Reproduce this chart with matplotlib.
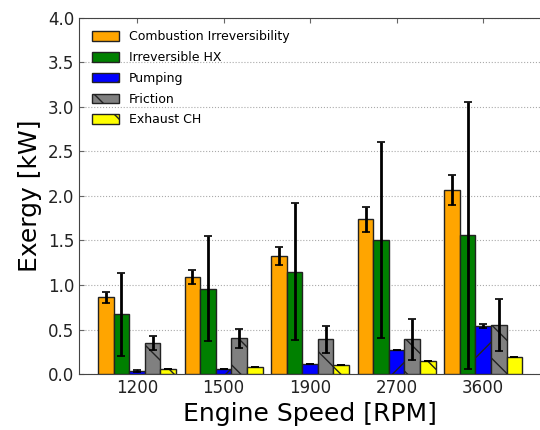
import numpy as np
import matplotlib
matplotlib.use('Agg')
from matplotlib import pyplot as plt

speeds = ['1200', '1500', '1900', '2700', '3600']
labels = ['Combustion Irreversibility', 'Irreversible HX', 'Pumping', 'Friction', 'Exhaust CH']
colors = ['orange', 'green', 'blue', 'gray', 'yellow']
hatches = ['', '', '/', '\\', '\\']

combustion = [0.86, 1.09, 1.33, 1.74, 2.07]
combustion_err = [0.06, 0.08, 0.10, 0.14, 0.17]
hx = [0.67, 0.96, 1.15, 1.51, 1.56]
hx_err = [0.47, 0.59, 0.77, 1.10, 1.50]
pumping = [0.03, 0.06, 0.11, 0.27, 0.54]
pumping_err = [0.01, 0.0, 0.0, 0.0, 0.02]
friction = [0.35, 0.40, 0.39, 0.39, 0.55]
friction_err = [0.08, 0.11, 0.15, 0.23, 0.29]
exhaust = [0.06, 0.08, 0.10, 0.15, 0.19]
exhaust_err = [0.0, 0.0, 0.0, 0.0, 0.0]

values = [combustion, hx, pumping, friction, exhaust]
errors = [combustion_err, hx_err, pumping_err, friction_err, exhaust_err]

fig = plt.figure(figsize=(5.4, 4.3), dpi=100)
ax = fig.add_axes([0.1463, 0.1302, 0.856, 0.828])

x = np.arange(len(speeds))
w = 0.18
for i in range(5):
    ax.bar(x + (i - 2) * w, values[i], w, color=colors[i], edgecolor='#222222',
           linewidth=1, hatch=hatches[i], label=labels[i], zorder=3,
           yerr=errors[i], error_kw=dict(ecolor='black', elinewidth=2, capsize=3, capthick=1.2, zorder=4))

ax.set_xlim(-0.67, 4.67)
ax.set_ylim(0, 4.0)
ax.set_yticks(np.arange(0, 4.01, 0.5))
ax.set_xticks(x)
ax.set_xticklabels(speeds)
ax.yaxis.grid(True, linestyle=':', color='#aaaaaa', linewidth=0.8, zorder=0)
ax.tick_params(labelsize=12, labelcolor='#222222', direction='in', top=True, right=False, color='#666666')
ax.set_xlabel('Engine Speed [RPM]', fontsize=18)
ax.set_ylabel('Exergy [kW]', fontsize=18)
for s in ax.spines.values():
    s.set_color('#444444')
ax.spines['right'].set_visible(False)

ax.legend(loc='upper left', frameon=False, fontsize=9, handlelength=2.2, handleheight=0.8,
          labelspacing=0.62, borderaxespad=0.6)

plt.savefig('out.png', dpi=100)
